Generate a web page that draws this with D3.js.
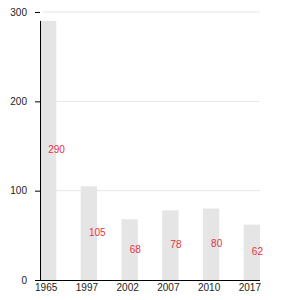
<!DOCTYPE html>
<html>
<head>
<meta charset="utf-8">
<script src="https://cdn.jsdelivr.net/npm/d3@7"></script>
<style>
  body{margin:0;background:#fff}
  svg text{font-family:"Liberation Sans",Arial,sans-serif}
</style>
</head>
<body>
<svg id="chart" width="300" height="300"></svg>
<script>
'use strict';

/* data */
const YEARS=['1965','1997','2002','2007','2010','2017'];
const VALUES=[290,105,68,78,80,62];
const Y_TICKS=[0,100,200,300];

const margin={top:12,right:40,bottom:20,left:40};
const W=300,H=300;

const svg=d3.select('#chart');

const x=d3.scaleBand()
  .domain(YEARS)
  .range([margin.left,W-margin.right])
  .paddingInner(0.6)
  .paddingOuter(0);

const y=d3.scaleLinear()
  .domain([0,300])
  .range([H-margin.bottom,margin.top]);

// grid
svg.append('g')
  .selectAll('line')
  .data(Y_TICKS.filter(d=>d>0))
  .enter()
  .append('line')
  .attr('x1',margin.left+3)
  .attr('x2',W-margin.right)
  .attr('y1',d=>y(d))
  .attr('y2',d=>y(d))
  .attr('stroke','#e6e6e6')
  .attr('stroke-width',1);

// bars
svg.append('g')
  .selectAll('rect')
  .data(VALUES)
  .enter()
  .append('rect')
  .attr('x',(d,i)=>x(YEARS[i]))
  .attr('width',x.bandwidth())
  .attr('y',d=>y(d))
  .attr('height',d=>y(0)-y(d))
  .attr('fill','#e5e5e5');

// y axis
const yAxis=svg.append('g')
  .attr('transform',`translate(${margin.left},0)`)
  .call(d3.axisLeft(y).tickValues(Y_TICKS).tickSize(5).tickPadding(8));
yAxis.select('.domain').remove();
yAxis.selectAll('text').attr('font-size',10).attr('fill','#222');
yAxis.selectAll('.tick line').attr('stroke','#000');
svg.append('line')
  .attr('x1',margin.left+0.5).attr('x2',margin.left+0.5)
  .attr('y1',y(d3.max(VALUES))).attr('y2',y(0))
  .attr('stroke','#000');

// x axis
const xAxis=svg.append('g')
  .attr('transform',`translate(0,${y(0)})`)
  .call(d3.axisBottom(x).tickSize(0).tickPadding(4));
xAxis.select('.domain').attr('stroke','#000').attr('d',`M${margin.left},0.5H${W-margin.right}`);
xAxis.selectAll('text').attr('font-size',10).attr('fill','#222').attr('dx',-2);

// value labels
svg.append('g')
  .selectAll('text')
  .data(VALUES)
  .enter()
  .append('text')
  .attr('x',(d,i)=>x(YEARS[i])+x.bandwidth()/2)
  .attr('y',d=>y(d/2))
  .attr('dy','0.3em')
  .attr('font-size',10)
  .attr('fill','#e8313f')
  .text(d=>d);
</script>
</body>
</html>
